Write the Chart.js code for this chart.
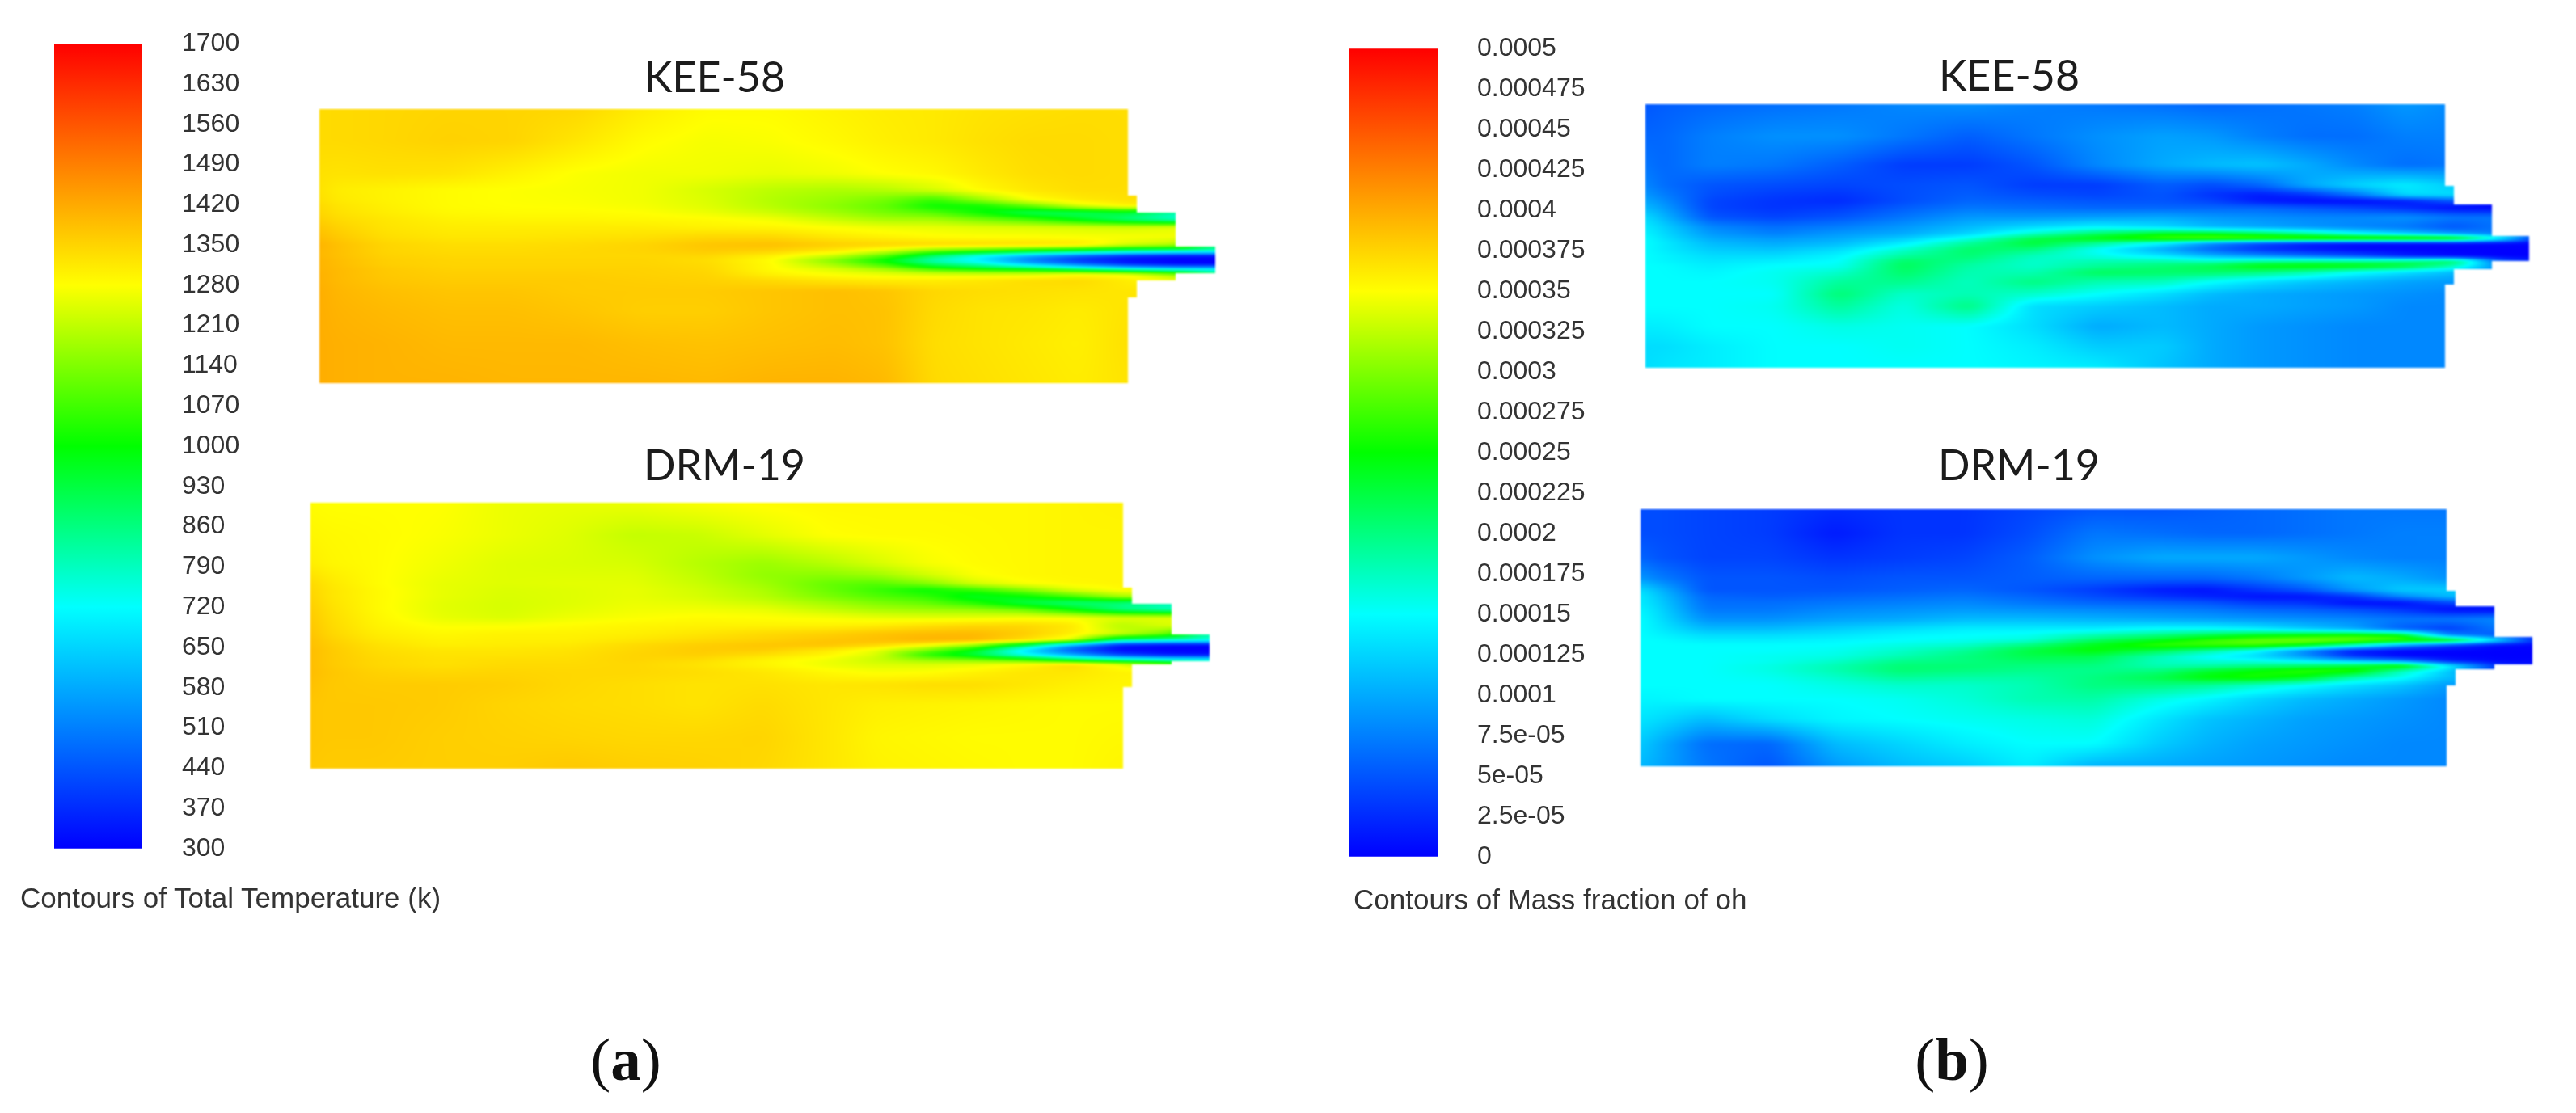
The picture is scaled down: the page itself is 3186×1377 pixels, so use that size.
<!DOCTYPE html>
<html><head><meta charset="utf-8">
<script src="https://cdn.jsdelivr.net/npm/chart.js@4"></script>
<style>
html,body{margin:0;padding:0;background:#fff;width:3186px;height:1377px;overflow:hidden}
body{position:relative}
canvas{position:absolute;display:block}
.t{position:absolute;white-space:nowrap;transform:translate(-50%,-50%);line-height:1}
.title{font-family:Lato,sans-serif;font-size:52px;color:#1c1c1c}
.foot{font-family:"Liberation Sans",Arial,sans-serif;font-size:35px;color:#333;transform:translate(0,-50%)}
.cap{font-family:"Liberation Serif",serif;font-size:75px;color:#111}
</style></head><body>
<script>
const tempTickLabels=["300","370","440","510","580","650","720","790","860","930","1000","1070","1140","1210","1280","1350","1420","1490","1560","1630","1700"];
const ohTickLabels=["0","2.5e-05","5e-05","7.5e-05","0.0001","0.000125","0.00015","0.000175","0.0002","0.000225","0.00025","0.000275","0.0003","0.000325","0.00035","0.000375","0.0004","0.000425","0.00045","0.000475","0.0005"];
const axialStations=[0,20,80,160,240,320,400,480,560,640,700,760,820,880,940,1000,1060,1110];

const keeTempRadial=[0,40,80,100,112,120,128,136,146,158,168,176,182,187,192,198,204,212,225,250,290,339];
const keeTemp=[
[1340,1340,1345,1350,1350,1345,1310,1285,1285,1300,1310,1315,1325,1330,1335,1335],
[1340,1340,1345,1355,1350,1320,1285,1270,1275,1290,1305,1315,1330,1340,1340,1335],
[1330,1325,1330,1325,1300,1275,1265,1265,1255,1265,1280,1290,1315,1335,1340,1335],
[1330,1310,1300,1285,1278,1272,1265,1235,1205,1190,1200,1235,1290,1320,1335,1335],
[1335,1315,1300,1285,1278,1275,1265,1240,1195,1165,1130,1060,1170,1280,1315,1330],
[1345,1325,1305,1285,1280,1278,1270,1245,1200,1150,1105,1005,1010,1110,1240,1300,1300],
[1350,1330,1310,1290,1285,1285,1280,1260,1225,1175,1130,1090,1000,900,900,950,800],
[1360,1340,1320,1300,1295,1295,1290,1285,1265,1215,1180,1175,1120,1060,960,860,770],
[1375,1355,1325,1310,1310,1310,1310,1300,1295,1275,1260,1255,1245,1240,1235,1230,1250],
[1390,1370,1335,1320,1320,1325,1330,1345,1345,1315,1300,1285,1280,1280,1275,1275,1270],
[1405,1385,1350,1335,1335,1340,1350,1375,1385,1360,1350,1345,1340,1335,1320,1240,1200,900],
[1400,1385,1350,1340,1340,1345,1350,1365,1350,1305,1230,1100,1030,950,880,800,760,750],
[1400,1385,1355,1345,1345,1345,1345,1345,1300,1210,1080,870,700,560,440,350,310,305],
[1405,1390,1360,1350,1350,1350,1350,1335,1280,1130,990,790,680,500,380,320,300,300],
[1405,1390,1360,1350,1350,1350,1350,1340,1285,1170,1050,880,780,620,480,360,310,305],
[1405,1395,1370,1355,1355,1355,1355,1345,1285,1240,1180,1070,1010,970,860,760,700,700],
[1410,1395,1370,1360,1360,1360,1355,1350,1300,1270,1255,1240,1235,1240,1280,1260,1150,900],
[1410,1395,1375,1365,1365,1365,1360,1355,1340,1320,1310,1310,1320,1335,1340,1310,1270],
[1415,1400,1385,1375,1375,1365,1365,1365,1375,1385,1375,1345,1335,1330,1325,1320],
[1415,1405,1395,1385,1385,1375,1360,1360,1375,1385,1380,1340,1325,1320,1310,1325],
[1415,1410,1405,1395,1395,1395,1385,1380,1385,1390,1380,1335,1325,1315,1305,1330],
[1415,1410,1405,1405,1400,1400,1400,1395,1405,1405,1395,1340,1330,1320,1310,1325]];

const drmTempRadial=[0,40,75,90,100,108,116,124,132,142,152,162,170,176,182,188,194,200,210,225,250,290,329];
const drmTemp=[
[1285,1280,1280,1280,1260,1255,1260,1275,1285,1290,1290,1290,1290,1290,1295,1300],
[1295,1290,1285,1275,1260,1245,1215,1220,1250,1280,1285,1285,1288,1290,1295,1295],
[1310,1295,1285,1265,1245,1240,1235,1200,1170,1200,1235,1270,1285,1290,1295,1295],
[1330,1310,1285,1260,1245,1245,1245,1210,1160,1150,1170,1225,1275,1290,1295,1295],
[1345,1320,1285,1255,1245,1250,1250,1220,1175,1110,1090,1140,1230,1275,1290,1295],
[1350,1325,1290,1255,1240,1245,1255,1230,1190,1115,1060,1000,1050,1140,1240,1285,1290],
[1355,1325,1290,1255,1238,1245,1255,1235,1200,1135,1090,1055,960,990,1070,1180,1200],
[1360,1330,1290,1250,1235,1245,1260,1250,1225,1180,1140,1110,1040,930,870,870,790],
[1365,1335,1290,1250,1235,1250,1265,1265,1255,1215,1185,1170,1160,1120,1000,860,800],
[1370,1340,1295,1255,1240,1262,1275,1285,1280,1270,1255,1250,1255,1270,1270,1245,1250],
[1375,1345,1300,1275,1275,1285,1295,1300,1300,1300,1310,1330,1345,1345,1320,1200,1240],
[1380,1350,1310,1290,1300,1300,1305,1320,1340,1355,1375,1390,1395,1365,1310,1230,1120,800],
[1385,1360,1320,1300,1305,1305,1320,1340,1355,1375,1385,1405,1400,1340,1250,850,780,760],
[1385,1365,1330,1305,1310,1315,1340,1360,1375,1380,1350,1290,1180,950,600,340,305,300],
[1390,1370,1335,1320,1320,1325,1345,1365,1365,1320,1260,1150,990,690,440,310,300,300],
[1390,1370,1340,1325,1325,1330,1350,1360,1335,1295,1240,1040,930,730,580,400,330,320],
[1390,1370,1345,1330,1335,1335,1350,1340,1300,1265,1220,1160,1130,1060,900,800,740,730],
[1390,1370,1345,1330,1340,1340,1345,1325,1295,1260,1240,1240,1255,1290,1340,1270,1150,900],
[1390,1375,1355,1345,1350,1345,1345,1335,1320,1290,1275,1280,1300,1320,1320,1300],
[1385,1370,1365,1365,1360,1345,1335,1325,1330,1320,1325,1335,1335,1320,1305,1295],
[1375,1370,1370,1365,1350,1340,1335,1325,1340,1320,1305,1300,1295,1290,1285,1285],
[1375,1370,1370,1360,1355,1350,1345,1345,1350,1320,1295,1290,1285,1285,1285,1290],
[1370,1365,1365,1360,1360,1370,1360,1355,1345,1320,1300,1295,1290,1285,1285,1295]];

const keeOhRadial=[0,40,75,100,112,120,128,140,152,160,166,172,180,188,194,200,208,220,235,250,275,300,326];
const keeOh=[
[5,5.5,6,6.5,7,8,8.5,7.5,7,6.5,6,6.5,7,7.5,9,8],
[6,6,7.5,8.5,8.5,7,5.5,7,8.5,9.5,9,7.5,6.5,6.5,7.5,7.5],
[7,6,7.5,7,5.5,3.5,3.5,5,8,10,11,11.5,10,8,6.5,7],
[8,6.5,5,4.5,4,4.5,5,3.5,3.5,5.5,4.5,6,10,12.5,14,12],
[9,7.5,4.5,3.5,3,4.5,5.5,4.5,4,5,3,1.5,3,7,13,13],
[10,8.5,4,3,2.5,4.5,6,5.5,5,5,4,1.5,0.5,0.5,1.5,5,1],
[11,9.5,4,3,3.5,5.5,7,6.5,6,6,6,6,5,4,2.5,0.5,0.2],
[13,11,5,4,5,7,9,9,9.5,10,9,8.5,8,8,8.5,7,7],
[14,12.5,8,6.5,7.5,9,11,13,14.5,13,11,10,9,8,7,5,7],
[14.5,13,9,7.5,9,10,12.5,17,21,24,24,22,19,15,12,9,7,2],
[15,13.5,10,9,10,12,16,22,25,28,29,29,29,29,29,28,16,1],
[15,14,11,10,11,14,19,23,19,14,8,4,1.5,0.5,0.3,0.2,0.2,0.2],
[15,14,12,11.5,13,17,21,20,15,10,6,3,1.5,0.5,0.2,0,0,0],
[15,14.5,13,13,14.5,19,20.5,17.5,16,14,11,9,7,5,2,0.5,0,0],
[15,14.5,13.5,14,15,21,19.5,17,18,18,17,18.5,19,19,20,22,5,1],
[15,15,14,15,15.5,21.5,18.5,17,19,20.5,22,25,25.5,25,23,18,7],
[15,15,14.5,15.5,17,21,18,18,21.5,21,21,20,18,15,13,11,8],
[15,15,15,15.5,19,19.5,17.5,20,18,17.5,15,13,11.5,10.5,9.5,9],
[15,15,15,15,20.5,17,18,17,15,13,11,10,9.5,9,8.5,8],
[15,15,15,15.5,19,16,20,13,12,11,10,10,9.5,9,8,8],
[14,14,15,15,16,15.5,15,13,10,11,10,9,8.5,8,8,8],
[13,13,14,15,15,15.5,15,14,12,12,10,9,8.5,8,8,8],
[13,13.5,14,15,15,15,15,14.5,14,11.5,10,9,8.5,8,8,8]];

const drmOhRadial=[0,30,60,85,100,108,116,124,136,148,156,162,168,175,182,188,194,200,208,218,235,260,290,318];
const drmOh=[
[4.5,4.5,4,3.5,2.5,3,3,4,5,5,5.5,6,6.5,7,7,7],
[4.5,4.5,4,3.5,1.5,3,3,4.5,7,6.5,6,6,6.5,7,7.5,7.5],
[6,5,4,4,3,3.5,4,5.5,8.5,10,10,10,9,8,7.5,7.5],
[9,7.5,5,5,4.5,5,5,5.5,6,6,6,7,9,11,10,8.5],
[13,11,5,5,5,5.5,6,5,3.5,1.5,1,3,5,9,12,12],
[14,12,6,5.5,6,6.5,7,6,4.5,3,2,1,1,3,8,11],
[14,12.5,6.5,6.5,7,7.5,8,7,6,5.5,5,3.5,3,0.8,0.6,4],
[14.5,13,7,7,8,8.5,9,8.5,8,7.5,7,6,5.5,4.5,3,0.5,0.2],
[15,13.5,8.5,8.5,9.5,10,11,11,10.5,10,9.5,9,8.5,8,7,7,8],
[15,14,11,11,12,13,14,14,14,15,15,14,12,10,5.5,3.5,7],
[15,14.5,13,13,13.5,14.5,15,15.5,18,20,22,24,25,26,25,8,5,1],
[15,15,14,14,14.5,15,15.5,16.5,21,24,27,29,30,29.5,28,27,14,2],
[15,15,15,15,15,16,17,20,24,27,27.5,28,25,19,10,4,0.5,0.3],
[15,15,15,15,15.5,17,19,22.5,25,22,19,15,8,1.5,0.3,0.1,0,0],
[15,15,15,15.5,16,18,20,22,22,18,15,13,9,3,0.5,0.1,0,0],
[15,15,15,15.5,17,19.5,20,21,21,17.5,16.5,16,14.5,12,9,2,0.3,0.3],
[15,15,15,16,18,20.5,20.5,20,20,18,18.5,20,21,23,27,15,3,1],
[15,15,15,16,18,20.5,20,19.5,19.5,20,23,25,27,26.5,18,12,3],
[15,15,15,15.5,17,19,18.5,18.5,20,22,25,26,24,18.5,15.5,11],
[15,15,15,15,16,17,17,18,20,20,19,17,15,13,11.5,9],
[14.5,14.5,15,15,15,15.5,16.5,18,18.5,16,14.5,12.5,11,10,9,8],
[13.5,13,11,13,14.5,15,15.5,16,16.5,13.5,11.5,10.5,9.5,9,8.5,8],
[12,10.5,6.5,6,11,12.5,14,15,15,12,10.5,9.5,9,8.5,8,8],
[11,10,7,5,9,11,12,14,10.5,10,9.5,9,8.5,8,8,8]];

const keeTempOutline=[[0,0],[1000,0],[1000,107],[1011,107],[1011,128],[1059,128],[1059,170],[1108,170],[1108,203],[1059,203],[1059,212],[1011,212],[1011,233],[1000,233],[1000,339],[0,339]];
const drmTempOutline=[[0,0],[1005,0],[1005,105],[1016,105],[1016,125],[1065,125],[1065,163],[1112,163],[1112,196],[1065,196],[1065,200],[1016,200],[1016,228],[1005,228],[1005,329],[0,329]];
const keeOhOutline=[[0,0],[989,0],[989,101],[1000,101],[1000,124],[1047,124],[1047,163],[1093,163],[1093,194],[1047,194],[1047,204],[1000,204],[1000,223],[989,223],[989,326],[0,326]];
const drmOhOutline=[[0,0],[997,0],[997,101],[1008,101],[1008,120],[1056,120],[1056,158],[1103,158],[1103,192],[1056,192],[1056,198],[1008,198],[1008,218],[997,218],[997,318],[0,318]];

const colourStops=[[0,0,0,255],[0.3,0,255,255],[0.5,0,255,0],[0.7,255,255,0],[1,255,0,0]];
function colourAt(f){
  f=Math.max(0,Math.min(1,f));
  for(let i=1;i<colourStops.length;i++){
    const a=colourStops[i-1],b=colourStops[i];
    if(f<=b[0]){const t=(f-a[0])/(b[0]-a[0]);return [a[1]+(b[1]-a[1])*t,a[2]+(b[2]-a[2])*t,a[3]+(b[3]-a[3])*t];}
  }
  return colourStops[4].slice(1);
}
function bracket(st,v){
  let i=0;while(i<st.length-2&&v>st[i+1])i++;
  const t=Math.max(0,Math.min(1,(v-st[i])/(st[i+1]-st[i])));
  return [i,t];
}
function boxBlur(src,W,H,rx,ry){
  const tmp=new Float32Array(W*H),out=new Float32Array(W*H);
  for(let y=0;y<H;y++){let s=0;
    for(let x=-rx;x<=rx;x++)s+=src[y*W+Math.max(0,Math.min(W-1,x))];
    for(let x=0;x<W;x++){tmp[y*W+x]=s/(2*rx+1);
      s+=src[y*W+Math.min(W-1,x+rx+1)]-src[y*W+Math.max(0,x-rx)];}}
  for(let x=0;x<W;x++){let s=0;
    for(let y=-ry;y<=ry;y++)s+=tmp[Math.max(0,Math.min(H-1,y))*W+x];
    for(let y=0;y<H;y++){out[y*W+x]=s/(2*ry+1);
      s+=tmp[Math.min(H-1,y+ry+1)*W+x]-tmp[Math.max(0,y-ry)*W+x];}}
  return out;
}
function contourPlugin(radial,field,outline,lo,hi){
  return {id:'contourField',beforeDatasetsDraw(chart){
    const W=chart.width,H=chart.height,sx=chart.scales.x,sy=chart.scales.y;
    const cols=[];for(let p=0;p<W;p++)cols.push(bracket(axialStations,sx.getValueForPixel(p+.5)));
    const rows=[];for(let p=0;p<H;p++)rows.push(bracket(radial,sy.getValueForPixel(p+.5)));
    const at=(r,c)=>{const a=field[r];return a[Math.min(c,a.length-1)];};
    let v=new Float32Array(W*H);
    for(let y=0;y<H;y++){const [r,tr]=rows[y];
      for(let x=0;x<W;x++){const [c,tc]=cols[x];
        v[y*W+x]=(at(r,c)*(1-tc)+at(r,c+1)*tc)*(1-tr)+(at(r+1,c)*(1-tc)+at(r+1,c+1)*tc)*tr;}}
    v=boxBlur(boxBlur(v,W,H,12,2),W,H,8,1);
    const off=document.createElement('canvas');off.width=W;off.height=H;
    const oc=off.getContext('2d'),img=oc.createImageData(W,H);
    for(let i=0;i<W*H;i++){const c=colourAt((v[i]-lo)/(hi-lo));
      img.data[i*4]=c[0];img.data[i*4+1]=c[1];img.data[i*4+2]=c[2];img.data[i*4+3]=255;}
    oc.putImageData(img,0,0);
    oc.globalCompositeOperation='destination-in';
    oc.beginPath();
    outline.forEach((p,i)=>{const X=sx.getPixelForValue(p[0]),Y=sy.getPixelForValue(p[1]);i?oc.lineTo(X,Y):oc.moveTo(X,Y);});
    oc.closePath();oc.fill();
    const ctx=chart.ctx;ctx.save();ctx.filter='blur(1.2px)';ctx.drawImage(off,0,0);ctx.restore();
  }};
}
function addCanvas(l,t,w,h){
  const c=document.createElement('canvas');c.width=w;c.height=h;
  c.style.left=l+'px';c.style.top=t+'px';c.style.width=w+'px';c.style.height=h+'px';
  document.body.appendChild(c);return c;
}
function fieldMap(left,top,width,height,radial,field,outline,lo,hi,name){
  const m=6,W=1125+2*m,H=height+2*m;
  const pts=[];radial.forEach((y,r)=>field[r].forEach((v,c)=>pts.push({x:axialStations[c],y:y,v:v})));
  new Chart(addCanvas(left-m,top-m,W,H),{type:'scatter',
    data:{datasets:[{label:name,data:pts,pointRadius:0,showLine:false}]},
    options:{responsive:false,animation:false,devicePixelRatio:1,layout:{padding:0},
      plugins:{legend:{display:false},tooltip:{enabled:false},title:{display:false}},
      scales:{x:{type:'linear',display:false,min:-m,max:W-m},y:{type:'linear',display:false,reverse:true,min:-m,max:height+m}}},
    plugins:[contourPlugin(radial,field,outline,lo,hi)]});
}
function colourBar(left,top,height,lo,hi,labels){
  const barW=109,gap=49,axisW=gap+190,pad=30,startH=height+160;
  const canvas=addCanvas(left,top-80,barW+axisW,startH);
  const chart=new Chart(canvas,{type:'bar',
    data:{labels:['range'],datasets:[{data:[[lo,hi]],barPercentage:1,categoryPercentage:1,
      backgroundColor(ctx){
        const a=ctx.chart.chartArea;if(!a)return '#0f0';
        const g=ctx.chart.ctx.createLinearGradient(0,a.bottom,0,a.top);
        colourStops.forEach(s=>g.addColorStop(s[0],`rgb(${s[1]},${s[2]},${s[3]})`));
        return g;
      }}]},
    options:{responsive:false,maintainAspectRatio:false,animation:false,devicePixelRatio:1,
      layout:{autoPadding:false,padding:{top:pad,bottom:pad,left:0,right:0}},
      plugins:{legend:{display:false},tooltip:{enabled:false}},
      scales:{
        x:{display:false},
        y:{position:'right',min:lo,max:hi,
          grid:{display:false,drawTicks:false},border:{display:false},
          afterFit(s){s.width=axisW;},
          ticks:{count:21,autoSkip:false,maxRotation:0,padding:gap,color:'#333',
            font:{family:'"Liberation Sans",Arial,sans-serif',size:32},
            callback:(v,i)=>labels[i]}}}}});
  // fit the plot area of the bar to the wanted length, then align its top edge
  const got=chart.chartArea.bottom-chart.chartArea.top;
  if(Math.abs(got-height)>0.5){chart.resize(barW+axisW,Math.round(startH+height-got));chart.update();}
  canvas.style.position='absolute';
  canvas.style.left=left+'px';
  canvas.style.top=(top-chart.chartArea.top)+'px';
}
function text(cls,str,x,y){
  const d=document.createElement('div');d.className='t '+cls;d.style.left=x+'px';d.style.top=y+'px';
  if(typeof str==='string')d.textContent=str;else d.innerHTML=str.html;
  document.body.appendChild(d);
}
colourBar(67,54,996,300,1700,tempTickLabels);
colourBar(1669,60,1000,0,50,ohTickLabels);
fieldMap(395,135,1000,339,keeTempRadial,keeTemp,keeTempOutline,300,1700,'KEE-58 temperature');
fieldMap(384,622,1005,329,drmTempRadial,drmTemp,drmTempOutline,300,1700,'DRM-19 temperature');
fieldMap(2035,129,989,326,keeOhRadial,keeOh,keeOhOutline,0,50,'KEE-58 OH');
fieldMap(2029,630,997,318,drmOhRadial,drmOh,drmOhOutline,0,50,'DRM-19 OH');
text('title','KEE-58',884,94);
text('title','DRM-19',896,574);
text('title','KEE-58',2485,92);
text('title','DRM-19',2497,574);
text('foot','Contours of Total Temperature (k)',25,1110);
text('foot','Contours of Mass fraction of oh',1674,1112);
text('cap',{html:'(<b>a</b>)'},774,1310);
text('cap',{html:'(<b>b</b>)'},2414,1310);
</script>
</body></html>
